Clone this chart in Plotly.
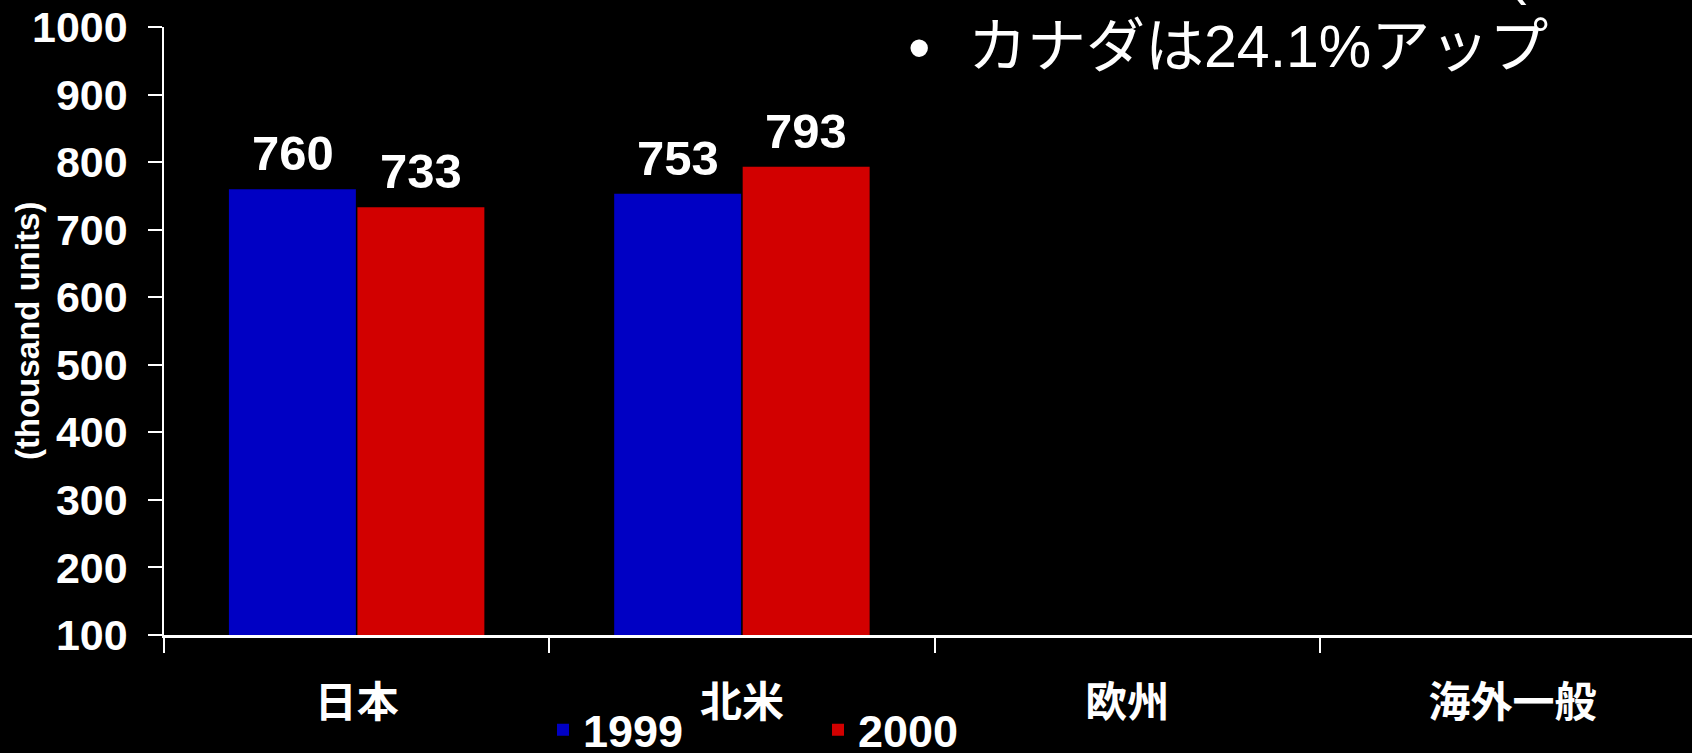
import plotly.graph_objects as go

categories = ["日本", "北米", "欧州", "海外一般"]
series_names = ["1999", "2000"]
values_1999 = [760, 753, None, None]
values_2000 = [733, 793, None, None]
y_ticks = [100, 200, 300, 400, 500, 600, 700, 800, 900, 1000]
y_title = "(thousand units)"
note_text = "カナダは24.1%アップ"

W, H = 1692, 753
L, R, T, B = 164, 0, 27, 118
PW = W - L - R
PH = H - T - B

def px_x(p):
    return (p - L) / PW

def px_y(p):
    return 1 + (T - p) / PH

num_font = "Liberation Sans, Arial, sans-serif"
jp_font = "Noto Sans CJK JP, sans-serif"

colors = ["#0000C4", "#D20000"]
series_values = [values_1999, values_2000]

fig = go.Figure()
for name, vals, col in zip(series_names, series_values, colors):
    fig.add_trace(go.Bar(
        x=categories, y=vals, name=name,
        marker=dict(color=col, line=dict(width=0)),
    ))

# value labels above bars (anchored on the data through the axes)
bar_px = 128
for k, vals in enumerate(series_values):
    shift = (-0.5 if k == 0 else 0.5) * bar_px
    for cat, v in zip(categories, vals):
        if v is None:
            continue
        fig.add_annotation(
            x=cat, y=v, xref="x", yref="y", xshift=shift, yshift=7,
            xanchor="center", yanchor="bottom", showarrow=False,
            text=str(v),
            font=dict(family=num_font, size=49, color="white", weight="bold"),
        )

fig.update_layout(
    width=W, height=H,
    template="none",
    paper_bgcolor="black", plot_bgcolor="black",
    margin=dict(l=L, r=R, t=T, b=B, autoexpand=False),
    barmode="group", bargap=0.333, bargroupgap=0.012,
    showlegend=True,
    legend=dict(
        orientation="h", x=px_x(543), xanchor="left",
        y=px_y(730), yanchor="middle",
        bgcolor="rgba(0,0,0,0)", borderwidth=0,
        font=dict(family=num_font, size=45, color="white", weight="bold"),
        entrywidth=230, traceorder="normal",
    ),
    xaxis=dict(
        type="category", range=[-0.5, 3.466],
        tickson="boundaries", ticks="outside", ticklen=15, tickwidth=1.5,
        tickcolor="white", showline=True, linecolor="white", linewidth=3,
        showgrid=False, zeroline=False, automargin=False,
        tickfont=dict(family=jp_font, size=42, color="white", weight="bold"),
        ticklabelstandoff=29,
    ),
    yaxis=dict(
        range=[100, 1000], tickvals=y_ticks, ticktext=[str(v) for v in y_ticks],
        ticks="outside", ticklen=14, tickwidth=1.5, tickcolor="white",
        showline=True, linecolor="white", linewidth=1.5,
        showgrid=False, zeroline=False, automargin=False,
        tickfont=dict(family=num_font, size=43, color="white", weight="bold"),
        ticklabelstandoff=12,
    ),
)

fig.add_annotation(
    xref="paper", yref="paper", x=px_x(27), y=0.5,
    xanchor="center", yanchor="middle", showarrow=False, textangle=-90,
    text=y_title,
    font=dict(family=num_font, size=33, color="white", weight="bold"),
)
fig.add_annotation(
    xref="paper", yref="paper", x=px_x(919), y=px_y(48),
    xanchor="center", yanchor="middle", showarrow=False,
    text="•", font=dict(family=num_font, size=64, color="white"),
)
fig.add_annotation(
    xref="paper", yref="paper", x=px_x(966), y=px_y(47),
    xanchor="left", yanchor="middle", showarrow=False,
    text=note_text, font=dict(family="Liberation Sans, Noto Sans CJK JP, sans-serif", size=59, color="white"),
)
fig.add_annotation(
    xref="paper", yref="paper", x=px_x(1517), y=px_y(8),
    xanchor="center", yanchor="bottom", showarrow=False,
    text="(", font=dict(family=num_font, size=59, color="white"),
)

fig.write_html(
    "out.html",
    config={"displayModeBar": False},
    post_script="document.body.style.margin='0';document.body.style.background='black';",
)
